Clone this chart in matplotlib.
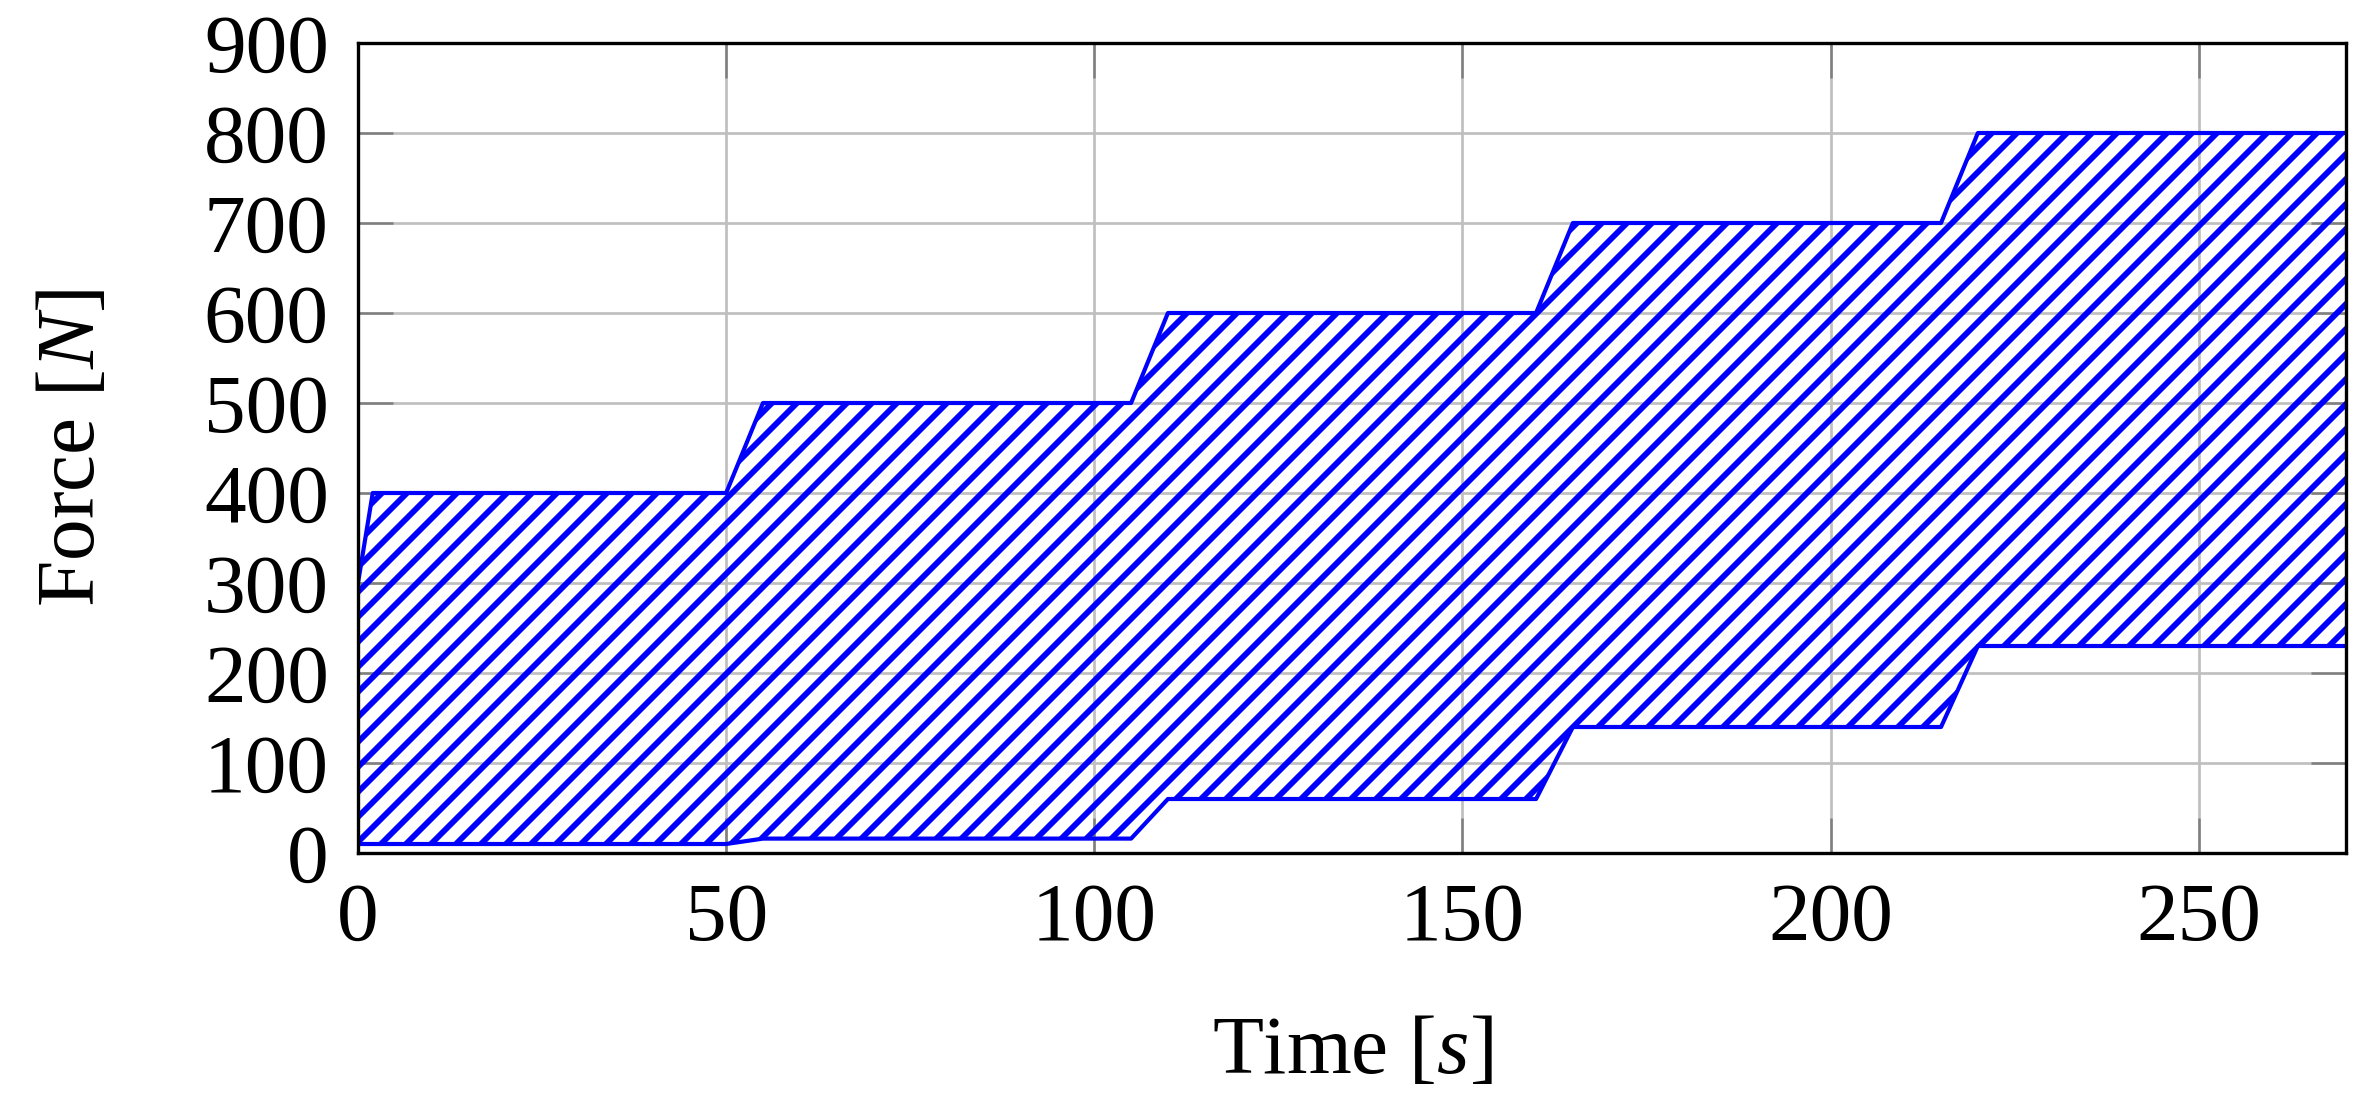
import numpy as np
import matplotlib
matplotlib.use("Agg")
import matplotlib.pyplot as plt

# Enveloppe de force (bornes haute et basse)
time_upper = [0, 2, 50, 55, 105, 110, 160, 165, 215, 220, 270]
force_upper = [300, 400, 400, 500, 500, 600, 600, 700, 700, 800, 800]
time_lower = [0, 50, 55, 105, 110, 160, 165, 215, 220, 270]
force_lower = [10, 10, 16, 16, 60, 60, 140, 140, 230, 230]

x_ticks = [0, 50, 100, 150, 200, 250]
y_ticks = [0, 100, 200, 300, 400, 500, 600, 700, 800, 900]

plt.rcParams['font.family'] = ['Liberation Serif', 'DejaVu Serif']
plt.rcParams['mathtext.fontset'] = 'custom'
plt.rcParams['mathtext.rm'] = 'Liberation Serif'
plt.rcParams['mathtext.it'] = 'Liberation Serif:italic'
plt.rcParams['hatch.linewidth'] = 1.4
plt.rcParams['hatch.color'] = 'blue'

DPI = 300
fig = plt.figure(figsize=(2379 / DPI, 1110 / DPI), dpi=DPI)
ax = fig.add_axes([358 / 2379, 1 - 853 / 1110, (2346 - 358) / 2379, (853 - 43) / 1110])

# grille commune en x pour fill_between
t = np.union1d(time_upper, time_lower)
up = np.interp(t, time_upper, force_upper)
lo = np.interp(t, time_lower, force_lower)

ax.fill_between(t, lo, up, facecolor='none', edgecolor='blue',
                hatch='////', linewidth=0, zorder=2)
ax.plot(time_upper, force_upper, color='blue', lw=1.0, zorder=3)
ax.plot(time_lower, force_lower, color='blue', lw=1.0, zorder=3)

ax.set_xlim(0, 270)
ax.set_ylim(0, 900)
ax.set_xticks(x_ticks)
ax.set_yticks(y_ticks)
ax.grid(True, color='#bfbfbf', lw=0.65, zorder=1)
ax.set_axisbelow(True)
ax.tick_params(direction='in', length=8.4, width=0.6, color='#7f7f7f',
               labelsize=20, top=True, right=True, pad=7)
for s in ax.spines.values():
    s.set_linewidth(0.8)
    s.set_zorder(4)

ax.set_xlabel('Time $[s]$', fontsize=20, labelpad=14)
ax.set_ylabel('Force $[N]$', fontsize=20, labelpad=22)

fig.savefig('out.png', dpi=DPI)
plt.close(fig)
